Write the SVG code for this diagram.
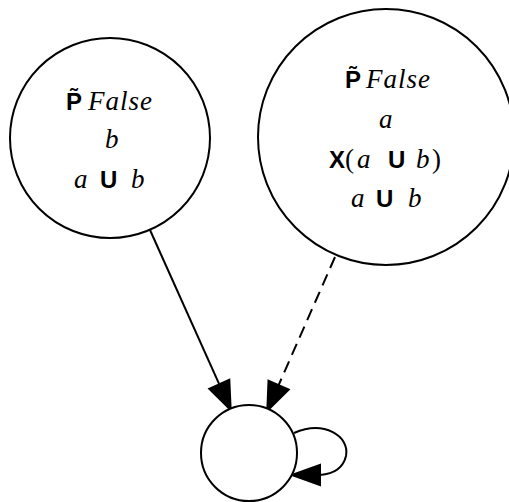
<svg xmlns="http://www.w3.org/2000/svg" width="509" height="502" viewBox="0 0 509 502">
  <style>
    .node { fill: #ffffff; stroke: #000000; stroke-width: 2; }
    .edge { fill: none; stroke: #000000; stroke-width: 2; }
    .dashed { stroke-dasharray: 12 7; }
    .head { fill: #000000; stroke: #000000; stroke-width: 2; stroke-linejoin: miter; }
    .m { font-family: "Liberation Serif", "DejaVu Serif", serif; font-style: italic; font-size: 27px; fill: #000000; }
    .r { font-family: "Liberation Serif", "DejaVu Serif", serif; font-size: 27px; fill: #000000; }
    .op { font-family: "Liberation Sans", "DejaVu Sans", sans-serif; font-weight: bold; font-size: 24px; fill: #000000; }
  </style>
  <rect width="509" height="502" fill="#ffffff"/>

  <g id="edges">
    <!-- left state to sink -->
    <path class="edge" d="M150,230 L219.3,384.3"/>
    <polygon class="head" points="230.7,410 209.3,388.8 229.3,379.8"/>
    <!-- right state to sink (dashed) -->
    <path class="edge dashed" d="M335,257 L278.6,385.1"/>
    <polygon class="head" points="267.3,410.7 268.5,380.7 288.7,389.5"/>
    <!-- self loop on sink -->
    <path class="edge" d="M294,433 C324,420 350,436 346,456 C343,469 332,474 320,475"/>
    <polygon class="head" points="292,475 320,465 320,485"/>
  </g>

  <g id="s0">
    <circle class="node" cx="110" cy="138" r="100"/>
    <text class="op" x="66" y="110">P&#x303;</text>
    <text class="m" x="88" y="110" textLength="64" lengthAdjust="spacing">False</text>
    <text class="m" x="105" y="148">b</text>
    <text class="m" x="74" y="188">a</text>
    <text class="op" x="100" y="188">U</text>
    <text class="m" x="131" y="188">b</text>
  </g>

  <g id="s1">
    <circle class="node" cx="386" cy="137" r="128"/>
    <text class="op" x="345" y="88">P&#x303;</text>
    <text class="m" x="366" y="88" textLength="64" lengthAdjust="spacing">False</text>
    <text class="m" x="379" y="128">a</text>
    <text class="op" x="329" y="168">X</text>
    <text class="r" x="345" y="168">(</text>
    <text class="m" x="357" y="168">a</text>
    <text class="op" x="388" y="168">U</text>
    <text class="m" x="416" y="168">b</text>
    <text class="r" x="432" y="168">)</text>
    <text class="m" x="351" y="207">a</text>
    <text class="op" x="376" y="207">U</text>
    <text class="m" x="408" y="207">b</text>
  </g>

  <g id="s2">
    <circle class="node" cx="249" cy="453" r="48"/>
  </g>
</svg>
